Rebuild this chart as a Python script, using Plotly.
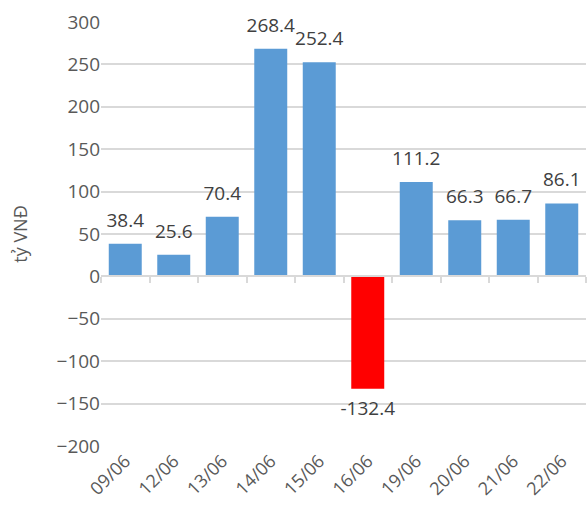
import plotly.graph_objects as go

categories = ["09/06", "12/06", "13/06", "14/06", "15/06", "16/06", "19/06", "20/06", "21/06", "22/06"]
values = [38.4, 25.6, 70.4, 268.4, 252.4, -132.4, 111.2, 66.3, 66.7, 86.1]
y_ticks = [-200, -150, -100, -50, 0, 50, 100, 150, 200, 250, 300]
y_range = [-200, 300]

BLUE = "#5B9BD5"
RED = "#FF0000"
colors = [RED if v < 0 else BLUE for v in values]
FONT = "Open Sans, Noto Sans, sans-serif"

fig = go.Figure()
fig.add_trace(go.Bar(
    x=categories, y=values,
    marker=dict(color=colors, line=dict(width=0)),
    hoverinfo="skip",
))
# data labels (invisible markers push the text away from the bar ends)
fig.add_trace(go.Scatter(
    x=categories, y=values, mode="markers+text",
    marker=dict(size=18, opacity=0),
    text=[f"{v:.1f}" for v in values],
    textposition=["bottom center" if v < 0 else "top center" for v in values],
    textfont=dict(size=19, color="#404040", family=FONT),
    cliponaxis=False, hoverinfo="skip", showlegend=False,
))
# invisible trace to host the zero-crossing category axis
fig.add_trace(go.Scatter(x=categories, y=[0] * len(categories), xaxis="x2",
                         mode="markers", marker=dict(opacity=0), hoverinfo="skip",
                         showlegend=False))

n = len(categories)
zero_pos = (0 - y_range[0]) / (y_range[1] - y_range[0])

fig.update_layout(
    width=588, height=513,
    margin=dict(l=101, r=2, t=22, b=67),
    paper_bgcolor="white", plot_bgcolor="white",
    showlegend=False,
    bargap=0.32,
    font=dict(family=FONT, color="#595959"),
    xaxis=dict(
        type="category", range=[-0.5, n - 0.5],
        showgrid=False, showline=False, ticks="",
        tickangle=-45, tickfont=dict(size=18, color="#595959"),
    ),
    xaxis2=dict(
        type="category", range=[-0.5, n - 0.5], overlaying="x",
        anchor="free", position=zero_pos, side="bottom",
        showticklabels=False, showgrid=False,
        showline=True, linecolor="#d9d9d9", linewidth=1.5,
        ticks="outside", ticklen=6, tickcolor="#d9d9d9", tickwidth=1.5,
        tickson="boundaries",
    ),
    yaxis=dict(
        range=y_range, tickvals=y_ticks,
        showgrid=True, gridcolor="#d9d9d9", gridwidth=1.5,
        zeroline=False, showline=False, ticks="",
        tickfont=dict(size=19, color="#595959"),
        title=dict(text="tỷ VNĐ", font=dict(size=18, color="#595959"), standoff=24),
    ),
)

fig.write_html("out.html", config={"displayModeBar": False},
               post_script="document.body.style.margin='0';document.body.style.overflow='hidden';")
